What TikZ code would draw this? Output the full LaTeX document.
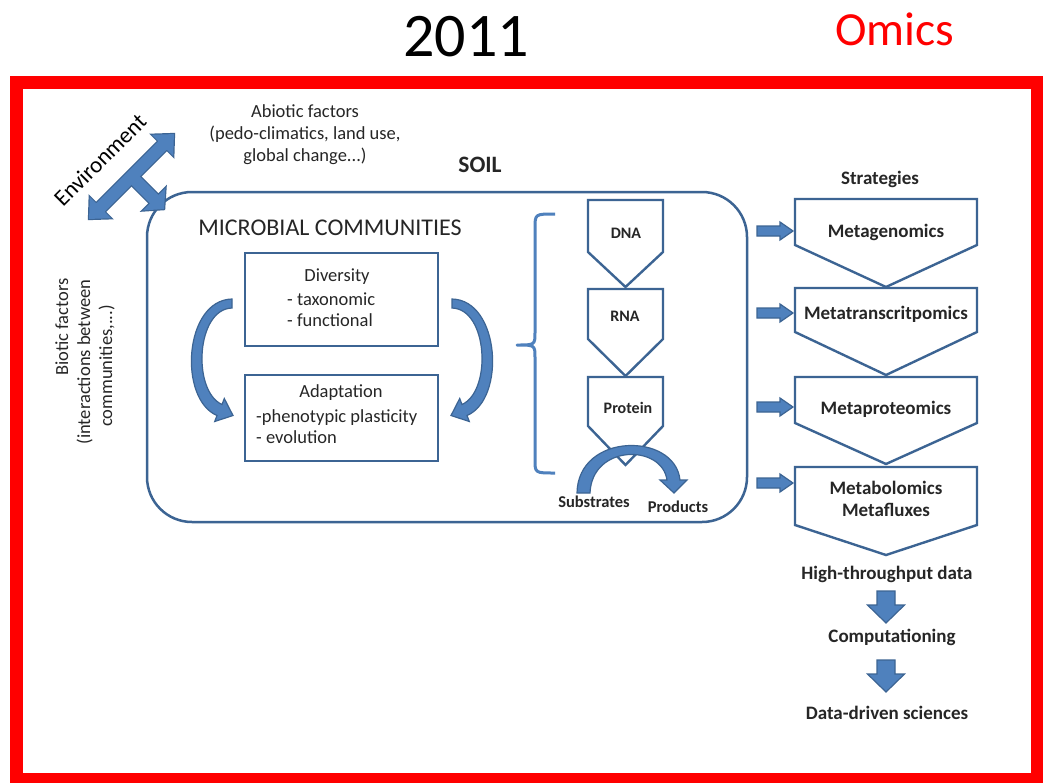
\documentclass[tikz,border=0pt]{standalone}
\usepackage{fontspec}
\setmainfont{Carlito}
\definecolor{dk}{HTML}{3C6493}
\definecolor{bl}{HTML}{4F81BD}
\definecolor{tx}{HTML}{262626}
\tikzset{
  txt/.style={text=tx, inner sep=0pt, anchor=base},
  body/.style={txt, font=\fontsize{18.5}{22}\selectfont},
  bodyb/.style={txt, font=\fontsize{19}{22}\selectfont\bfseries},
  smallb/.style={txt, font=\fontsize{16}{19}\selectfont\bfseries},
  chev/.style={draw=dk, line width=2.4pt, fill=white, line join=miter},
  blk/.style={draw=dk, fill=bl, line width=1.2pt, line join=miter},
  boxst/.style={draw=dk, line width=2.2pt, fill=white, inner sep=0pt},
}
\newcommand\rblk[1]{\filldraw[blk] (757,#1-5) -- (780,#1-5) -- (780,#1-9) -- (793,#1) -- (780,#1+9) -- (780,#1+5) -- (757,#1+5) -- cycle;}
\newcommand\dblk[1]{\filldraw[blk] (877,#1) -- (895,#1) -- (895,#1+14) -- (904.5,#1+14) -- (886,#1+32) -- (867.5,#1+14) -- (877,#1+14) -- cycle;}
\newcommand\chevshape[5]{\draw[chev] (#1,#3) -- (#2,#3) -- (#2,#4) -- ({(#1+#2)/2},#5) -- (#1,#4) -- cycle;}
\begin{document}
\begin{tikzpicture}[x=1pt,y=-1pt]
\useasboundingbox (0,0) rectangle (1043,782);
\fill[white] (0,0) rectangle (1043,782);
% titles
\node[txt, text=black, font=\fontsize{62}{70}\selectfont] (year) at (466,56) {2011};
\node[txt, text=red, font=\fontsize{47.5}{55}\selectfont] (omics) at (895,45) {Omics};
\draw[red, line width=13pt] (16.5,82.5) rectangle (1037.5,779.5);
% abiotic
\node[body] (ab1) at (305,117) {Abiotic factors};
\node[body] (ab2) at (305,139) {(pedo-climatics, land use,};
\node[body] (ab3) at (305,161) {global change...)};
% soil box
\node[txt, font=\fontsize{23.5}{26}\selectfont\bfseries] (soil) at (480,172) {SOIL};
\draw[dk, line width=2.5pt, rounded corners=45pt] (147,192) rectangle (747,522);
\node[txt, font=\fontsize{24}{28}\selectfont] (micro) at (330,235) {MICROBIAL COMMUNITIES};
% environment arrow
\begin{scope}[shift={(131.5,176.5)}]
  \begin{scope}[rotate=45]
    \draw[dk, line width=2.4pt, line join=miter] (-60,0) -- (-44,-15) -- (-44,-6) -- (44,-6) -- (44,-15) -- (60,0) -- (44,15) -- (44,6) -- (-44,6) -- (-44,15) -- cycle;
  \end{scope}
  \begin{scope}[rotate=-45]
    \draw[dk, line width=2.4pt, line join=miter] (0,-6) -- (32,-6) -- (32,-16) -- (46,0) -- (32,16) -- (32,6) -- (0,6) -- cycle;
  \end{scope}
  \begin{scope}[rotate=45]
    \fill[bl] (-60,0) -- (-44,-15) -- (-44,-6) -- (44,-6) -- (44,-15) -- (60,0) -- (44,15) -- (44,6) -- (-44,6) -- (-44,15) -- cycle;
  \end{scope}
  \begin{scope}[rotate=-45]
    \fill[bl] (0,-6) -- (32,-6) -- (32,-16) -- (46,0) -- (32,16) -- (32,6) -- (0,6) -- cycle;
  \end{scope}
\end{scope}
\node[txt, anchor=center, rotate=45, font=\fontsize{23}{26}\selectfont, text=black] (env) at (100,160) {Environment};
% biotic
\node[body, rotate=90] (bio1) at (68,327) {Biotic factors};
\node[body, rotate=90] (bio2) at (90,362) {(interactions between};
\node[body, rotate=90] (bio3) at (112,366) {communities,...)};
% diversity / adaptation
\node[boxst, minimum width=193pt, minimum height=93pt] (div) at (341.5,299.5) {};
\node[boxst, minimum width=193pt, minimum height=86pt] (ada) at (341.5,418) {};
\node[body] (d1) at (337,281) {Diversity};
\node[body, anchor=base west] (d2) at (287,305) {- taxonomic};
\node[body, anchor=base west] (d3) at (287,326) {- functional};
\node[body] (a1) at (341,397) {Adaptation};
\node[body, anchor=base west] (a2) at (256,422) {-phenotypic plasticity};
\node[body, anchor=base west] (a3) at (256,443) {- evolution};
% curved arrows
\filldraw[blk] (232,299) .. controls (184,300) and (178,399) .. (217,415.5) -- (214.7,421.5) -- (233,415.5) -- (224.3,398.5) -- (222,404.5) .. controls (192,391) and (196,309) .. (232,308) -- cycle;
\filldraw[blk] (452,299) .. controls (500,300) and (506,399) .. (467,415.5) -- (469.3,421.5) -- (451,415.5) -- (459.7,398.5) -- (462,404.5) .. controls (492,391) and (488,309) .. (452,308) -- cycle;
% brace
\draw[bl, line width=3pt, line join=round] (555,214) .. controls (535,214) .. (535,228) -- (535,332) .. controls (535,345) .. (517,345) .. controls (535,345) .. (535,358) -- (535,460) .. controls (535,473) .. (555,473);
% DNA RNA Protein
\chevshape{588}{663}{200}{252}{287}
\chevshape{588}{663}{289}{339}{376}
\chevshape{588}{663}{377}{426}{465}
\node[smallb] (dna) at (626,238) {DNA};
\node[smallb] (rna) at (625,321) {RNA};
\node[smallb] (prot) at (628,413) {Protein};
% substrates arrow
\filldraw[blk] (577,493) .. controls (578,432) and (675,432) .. (680,480) -- (687,480) -- (674,493) -- (660,480) -- (667,480) .. controls (662,444) and (592,444) .. (590,493) -- cycle;
\node[txt, font=\fontsize{16.5}{19}\selectfont\bfseries] (subs) at (594,507) {Substrates};
\node[txt, font=\fontsize{16.5}{19}\selectfont\bfseries] (prod) at (678,512) {Products};
% strategies
\node[bodyb] (strat) at (880,184) {Strategies};
\rblk{231}
\rblk{313}
\rblk{407}
\rblk{483}
\chevshape{795}{977}{199}{245}{287}
\chevshape{795}{977}{288}{332}{375}
\chevshape{795}{977}{377}{423}{464}
\chevshape{795}{977}{467}{525}{555}
\node[bodyb] (mg) at (886,237) {Metagenomics};
\node[bodyb] (mt) at (886,319) {Metatranscritpomics};
\node[bodyb] (mp) at (886,414) {Metaproteomics};
\node[bodyb] (mb1) at (886,494) {Metabolomics};
\node[bodyb] (mb2) at (886,516) {Metafluxes};
% bottom chain
\node[bodyb] (htp) at (887,579) {High-throughput data};
\dblk{591}
\node[bodyb] (comp) at (892,642) {Computationing};
\dblk{660}
\node[bodyb] (dds) at (887,719) {Data-driven sciences};
\end{tikzpicture}
\end{document}
